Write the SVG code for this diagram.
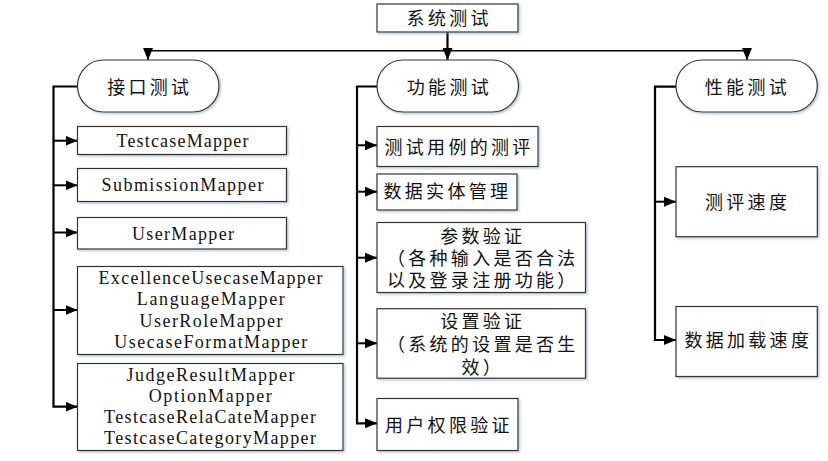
<svg xmlns="http://www.w3.org/2000/svg" width="828" height="461" viewBox="0 0 828 461">
<style>
.box{fill:#fff;stroke:#333;stroke-width:1.2;filter:url(#sh)}
.cn{font-family:"Liberation Sans","Noto Sans CJK SC",sans-serif;font-size:18px;letter-spacing:3.3px;fill:#111}
.mid{text-anchor:middle}
.en{font-family:"Liberation Serif","Times New Roman",serif;font-size:18px;fill:#111;text-anchor:middle}
.bus{fill:none;stroke:#000;stroke-width:2.2}
.br{fill:none;stroke:#000;stroke-width:2}
.top{fill:none;stroke:#000;stroke-width:1.6}
</style>
<defs>
<filter id="sh" x="-5%" y="-5%" width="115%" height="120%">
<feDropShadow dx="1.5" dy="1.5" stdDeviation="0.8" flood-color="#8797b0" flood-opacity="0.55"/>
</filter>
<marker id="ah" viewBox="0 0 12 10" refX="12" refY="5" markerWidth="12" markerHeight="10" markerUnits="userSpaceOnUse" orient="auto">
<path d="M0,0 L12,5 L0,10 Z" fill="#000"/>
</marker>
</defs>

<g id="connectors">
<path class="bus" d="M447.5,31.7 V60" stroke-width="2.6" marker-end="url(#ah)"/>
<path class="top" d="M148,50.7 H747"/>
<path class="top" d="M148,50.7 V60" marker-end="url(#ah)"/>
<path class="top" d="M747,50.7 V60" marker-end="url(#ah)"/>

<path class="bus" d="M77.5,86.5 H53.5 V406.7 H77.5" marker-end="url(#ah)"/>
<path class="br" d="M53.5,140.7 H77.5" marker-end="url(#ah)"/>
<path class="br" d="M53.5,185.3 H77.5" marker-end="url(#ah)"/>
<path class="br" d="M53.5,232.5 H77.5" marker-end="url(#ah)"/>
<path class="br" d="M53.5,310 H77.5" marker-end="url(#ah)"/>

<path class="bus" d="M377,86.5 H357 V423.3 H377" marker-end="url(#ah)"/>
<path class="br" d="M357,145.3 H377" marker-end="url(#ah)"/>
<path class="br" d="M357,191.7 H377" marker-end="url(#ah)"/>
<path class="br" d="M357,257.7 H377" marker-end="url(#ah)"/>
<path class="br" d="M357,343.3 H377" marker-end="url(#ah)"/>

<path class="bus" d="M676,86.7 H655 V340 H676" marker-end="url(#ah)"/>
<path class="br" d="M655,201.7 H676" marker-end="url(#ah)"/>
</g>

<g id="n-root">
<rect class="box" x="377" y="4" width="141" height="28"/>
<text class="cn mid" x="449.2" y="25">系统测试</text>
</g>

<g id="n-interface">
<rect class="box" x="77.5" y="60" width="141.5" height="52" rx="26" ry="26"/>
<text class="cn mid" x="149.8" y="94.3">接口测试</text>
</g>
<g id="n-function">
<rect class="box" x="377" y="60" width="141.5" height="52" rx="26" ry="26"/>
<text class="cn mid" x="449.4" y="94.3">功能测试</text>
</g>
<g id="n-performance">
<rect class="box" x="676" y="60" width="141.3" height="52" rx="26" ry="26"/>
<text class="cn mid" x="747.4" y="93.5">性能测试</text>
</g>

<g id="n-testcase">
<rect class="box" x="77.5" y="126.5" width="209" height="28"/>
<text class="en" x="182.5" y="146.7" textLength="132" lengthAdjust="spacing">TestcaseMapper</text>
</g>
<g id="n-submission">
<rect class="box" x="77.5" y="168.5" width="209" height="33"/>
<text class="en" x="182.5" y="191" textLength="162" lengthAdjust="spacing">SubmissionMapper</text>
</g>
<g id="n-user">
<rect class="box" x="77.5" y="217.5" width="209" height="31.5"/>
<text class="en" x="183" y="239.5" textLength="102" lengthAdjust="spacing">UserMapper</text>
</g>
<g id="n-mappers1">
<rect class="box" x="77.5" y="266.5" width="265.5" height="88"/>
<text class="en" x="210.5" y="284"><tspan x="210.5" y="284" textLength="224" lengthAdjust="spacing">ExcellenceUsecaseMapper</tspan><tspan x="210.8" y="305.3" textLength="148" lengthAdjust="spacing">LanguageMapper</tspan><tspan x="211" y="326.7" textLength="143" lengthAdjust="spacing">UserRoleMapper</tspan><tspan x="210.8" y="348" textLength="193" lengthAdjust="spacing">UsecaseFormatMapper</tspan></text>
</g>
<g id="n-mappers2">
<rect class="box" x="77.5" y="363.5" width="265.5" height="87"/>
<text class="en" x="210.5" y="380.5"><tspan x="210.5" y="380.5" textLength="168" lengthAdjust="spacing">JudgeResultMapper</tspan><tspan x="210.3" y="401.8" textLength="123" lengthAdjust="spacing">OptionMapper</tspan><tspan x="210" y="423.1" textLength="212" lengthAdjust="spacing">TestcaseRelaCateMapper</tspan><tspan x="210" y="444.4" textLength="212" lengthAdjust="spacing">TestcaseCategoryMapper</tspan></text>
</g>

<g id="n-eval">
<rect class="box" x="377" y="126.5" width="161" height="40"/>
<text class="cn" x="384.5" y="154.3">测试用例的测评</text>
</g>
<g id="n-entity">
<rect class="box" x="377" y="174" width="140" height="36"/>
<text class="cn" x="383.5" y="197.6">数据实体管理</text>
</g>
<g id="n-param">
<rect class="box" x="377" y="222.5" width="208.5" height="70"/>
<text class="cn mid" x="482.8" y="242.5"><tspan x="482.8" y="242.5">参数验证</tspan><tspan x="482.8" y="265.1">（各种输入是否合法</tspan><tspan x="482.8" y="286.8">以及登录注册功能）</tspan></text>
</g>
<g id="n-setting">
<rect class="box" x="377" y="308.7" width="208.5" height="69.5"/>
<text class="cn mid" x="482.8" y="327.8"><tspan x="482.8" y="327.8">设置验证</tspan><tspan x="482.8" y="351.1">（系统的设置是否生</tspan><tspan x="482.8" y="373.5">效）</tspan></text>
</g>
<g id="n-permission">
<rect class="box" x="377" y="398.5" width="141" height="52"/>
<text class="cn" x="385" y="431.8">用户权限验证</text>
</g>

<g id="n-evalspeed">
<rect class="box" x="676" y="166.7" width="141.3" height="70"/>
<text class="cn mid" x="747.6" y="208.5">测评速度</text>
</g>
<g id="n-loadspeed">
<rect class="box" x="676" y="306.5" width="141.3" height="70"/>
<text class="cn mid" x="748.3" y="346.8">数据加载速度</text>
</g>
</svg>
